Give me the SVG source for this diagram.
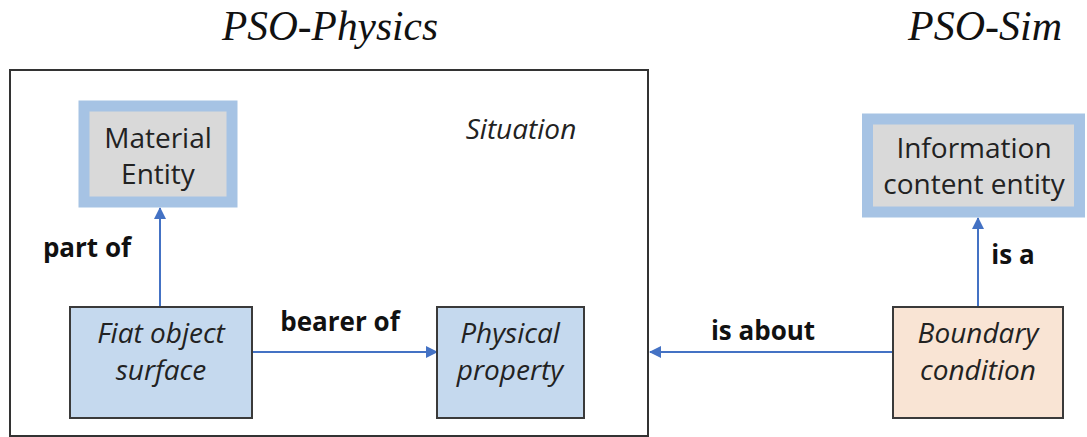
<svg xmlns="http://www.w3.org/2000/svg" width="1087" height="437" viewBox="0 0 1087 437">
<defs>
<style>
.title{font-family:"Liberation Serif",serif;font-style:italic;font-size:42px;fill:#111}
.node{font-family:"Open Sans","Liberation Sans",sans-serif;font-size:28px;fill:#222;text-anchor:middle}
.it{font-style:italic}
.lbl{font-family:"Open Sans","Liberation Sans",sans-serif;font-size:26px;font-weight:bold;fill:#111;text-anchor:middle}
.blue{fill:#C5D9EE;stroke:#3a3a3a;stroke-width:2}
.peach{fill:#F9E4D4;stroke:#3a3a3a;stroke-width:2}
.cls{fill:#D9D9D9;stroke:#A6C3E4;stroke-width:11}
.conn{stroke:#4472C4;stroke-width:2;fill:none;marker-end:url(#ah)}
</style>
<marker id="ah" markerWidth="12" markerHeight="12" refX="11" refY="6" orient="auto" markerUnits="userSpaceOnUse">
<path d="M0,0 L12,6 L0,12 Z" fill="#4472C4"/>
</marker>
</defs>
<rect width="1087" height="437" fill="#fff"/>
<text class="title" x="330" y="40" text-anchor="middle" textLength="216" lengthAdjust="spacingAndGlyphs">PSO-Physics</text>
<text class="title" x="985" y="40" text-anchor="middle" textLength="154" lengthAdjust="spacingAndGlyphs">PSO-Sim</text>
<g id="situation">
<rect x="10" y="70" width="638" height="366" fill="none" stroke="#333" stroke-width="2"/>
<text class="node it" x="521" y="139">Situation</text>
</g>
<g id="connectors">
<line class="conn" x1="160" y1="307" x2="160" y2="208"/>
<line class="conn" x1="252" y1="352" x2="437" y2="352"/>
<line class="conn" x1="978" y1="307" x2="978" y2="218"/>
<line class="conn" x1="893" y1="352" x2="650" y2="352"/>
<text class="lbl" x="87" y="257">part of</text>
<text class="lbl" x="340" y="331">bearer of</text>
<text class="lbl" x="1013" y="264">is a</text>
<text class="lbl" x="763" y="340">is about</text>
</g>
<g id="material-entity">
<rect class="cls" x="84" y="106" width="148" height="96"/>
<text class="node" x="158" y="148">Material</text>
<text class="node" x="158" y="184">Entity</text>
</g>
<g id="fiat-object-surface">
<rect class="blue" x="70" y="307" width="182" height="111"/>
<text class="node it" x="161" y="343">Fiat object</text>
<text class="node it" x="161" y="380">surface</text>
</g>
<g id="physical-property">
<rect class="blue" x="437" y="307" width="147" height="111"/>
<text class="node it" x="510" y="343">Physical</text>
<text class="node it" x="510" y="380">property</text>
</g>
<g id="information-content-entity">
<rect class="cls" x="867.5" y="119" width="212" height="93"/>
<text class="node" x="974" y="158">Information</text>
<text class="node" x="974" y="194">content entity</text>
</g>
<g id="boundary-condition">
<rect class="peach" x="893" y="307" width="170" height="111"/>
<text class="node it" x="978" y="343">Boundary</text>
<text class="node it" x="978" y="380">condition</text>
</g>
</svg>
